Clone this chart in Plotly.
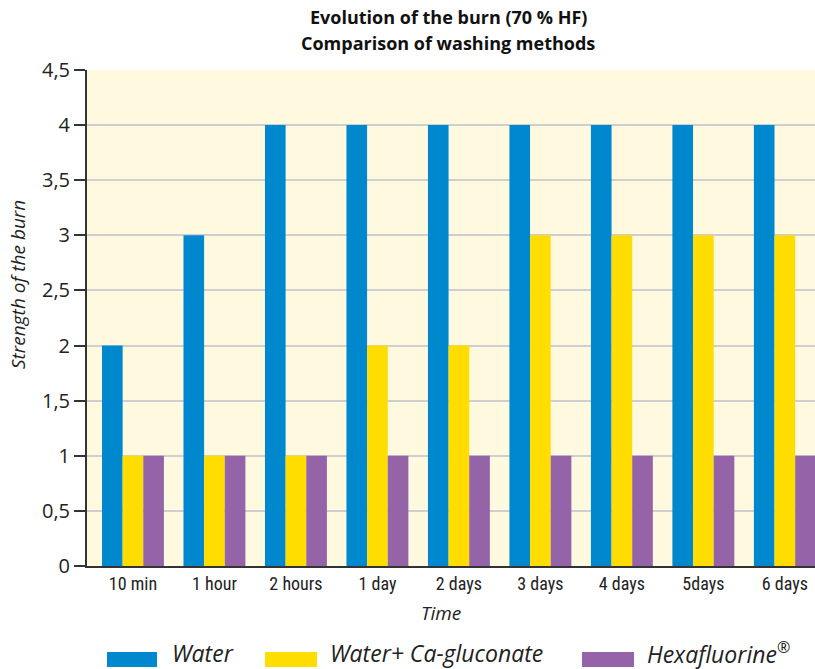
import plotly.graph_objects as go

# Data
times = ["10 min", "1 hour", "2 hours", "1 day", "2 days", "3 days", "4 days", "5days", "6 days"]
water = [2, 3, 4, 4, 4, 4, 4, 4, 4]
water_ca = [1, 1, 1, 2, 2, 3, 3, 3, 3]
hexafluorine = [1, 1, 1, 1, 1, 1, 1, 1, 1]
y_ticks = [0, 0.5, 1, 1.5, 2, 2.5, 3, 3.5, 4, 4.5]

BLUE = "#0088CF"
YELLOW = "#FFDD00"
PURPLE = "#9563A8"
BG = "#FFFADF"
FONT = "Open Sans, DejaVu Sans, sans-serif"
NARROW = "Liberation Sans Narrow, Roboto Condensed, Liberation Sans, sans-serif"

series = [
    ("Water", water, BLUE),
    ("Water+ Ca-gluconate", water_ca, YELLOW),
    ("Hexafluorine<sup>®</sup>", hexafluorine, PURPLE),
]

fig = go.Figure()
for name, vals, color in series:
    fig.add_trace(go.Bar(
        x=times,
        y=vals,
        name=name,
        marker=dict(color=color, line=dict(width=0)),
        showlegend=False,
    ))

fig.update_layout(
    width=815,
    height=669,
    margin=dict(l=87, r=0, t=70, b=103),
    paper_bgcolor="white",
    plot_bgcolor=BG,
    barmode="group",
    bargap=0.24,
    bargroupgap=0,
    separators=", ",
    font=dict(family=FONT, color="#222"),
)

fig.update_xaxes(
    range=[-0.564, 8.37],
    showline=True, linecolor="#333", linewidth=2,
    showgrid=False, ticks="",
    tickfont=dict(family=NARROW, size=18, color="#222"),
)
fig.update_yaxes(
    range=[0, 4.5],
    tickvals=y_ticks,
    showline=True, linecolor="#333", linewidth=2,
    showgrid=True, gridcolor="#CFCFCF", gridwidth=1.5,
    ticks="outside", ticklen=11, tickwidth=2, tickcolor="#333",
    tickfont=dict(family=FONT, size=20, color="#222"),
    zeroline=False,
)

W = 815 - 87
H = 669 - 70 - 103


def px(x):
    return (x - 87) / W


def py(y):
    return (566 - y) / H


# two-line title
for line, ty in [("Evolution of the burn (70 % HF)", 17), ("Comparison of washing methods", 43)]:
    fig.add_annotation(
        text="<b>" + line + "</b>", xref="paper", yref="paper",
        x=px(448), y=py(ty), xanchor="center", yanchor="middle", showarrow=False,
        font=dict(family=FONT, size=18, color="#111"),
    )

# axis titles
fig.add_annotation(
    text="<i>Time</i>", xref="paper", yref="paper",
    x=px(441), y=py(613), xanchor="center", yanchor="middle", showarrow=False,
    font=dict(family=FONT, size=19, color="#222"),
)
fig.add_annotation(
    text="<i>Strength of the burn</i>", xref="paper", x=px(18), xanchor="center",
    yref="paper", y=py(285), yanchor="middle", textangle=-90, showarrow=False,
    font=dict(family=FONT, size=19, color="#222"),
)

# legend drawn at the bottom
legend_items = [
    ("Water", BLUE, 107, 157, 170),
    ("Water+ Ca-gluconate", YELLOW, 265, 317, 328),
    ("Hexafluorine<sup>®</sup>", PURPLE, 582, 634, 645),
]
for label, color, x0, x1, tx in legend_items:
    fig.add_shape(
        type="rect", xref="paper", yref="paper",
        x0=px(x0), x1=px(x1), y0=py(667), y1=py(652),
        fillcolor=color, line_width=0,
    )
    fig.add_annotation(
        text="<i>" + label + "</i>", xref="paper", yref="paper",
        x=px(tx), y=py(653), xanchor="left", yanchor="middle",
        showarrow=False, font=dict(family=FONT, size=23, color="#222"),
    )

fig.write_html(
    "out.html",
    config={"displayModeBar": False},
    post_script="document.body.style.margin='0';",
)
